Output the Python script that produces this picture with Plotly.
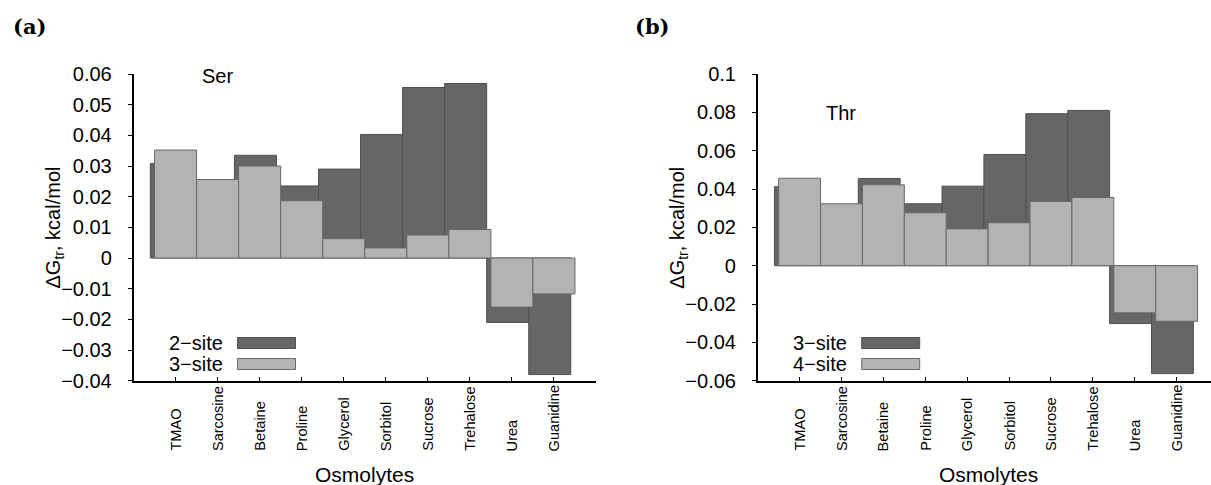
import numpy as np
import plotly.graph_objects as go

# ---------------- data ----------------
categories = ["TMAO", "Sarcosine", "Betaine", "Proline", "Glycerol",
              "Sorbitol", "Sucrose", "Trehalose", "Urea", "Guanidine"]

ser_2site = [0.0308, 0.0240, 0.0335, 0.0235, 0.0290, 0.0403, 0.0556, 0.0569, -0.0210, -0.0380]
ser_3site = [0.0352, 0.0256, 0.0300, 0.0187, 0.0063, 0.0033, 0.0075, 0.0093, -0.0160, -0.0117]

thr_3site = [0.0412, 0.0310, 0.0455, 0.0323, 0.0415, 0.0580, 0.0793, 0.0810, -0.0302, -0.0563]
thr_4site = [0.0456, 0.0323, 0.0422, 0.0276, 0.0192, 0.0224, 0.0335, 0.0356, -0.0246, -0.0290]

ser_series_names = ["2\u2212site", "3\u2212site"]
thr_series_names = ["3\u2212site", "4\u2212site"]

ser_yticks = [-0.04, -0.03, -0.02, -0.01, 0, 0.01, 0.02, 0.03, 0.04, 0.05, 0.06]
ser_yticktext = ["\u22120.04", "\u22120.03", "\u22120.02", "\u22120.01", "0",
                 "0.01", "0.02", "0.03", "0.04", "0.05", "0.06"]
thr_yticks = [-0.06, -0.04, -0.02, 0, 0.02, 0.04, 0.06, 0.08, 0.1]
thr_yticktext = ["\u22120.06", "\u22120.04", "\u22120.02", "0",
                 "0.02", "0.04", "0.06", "0.08", "0.1"]

panel_labels = ["(a)", "(b)"]
residues = ["Ser", "Thr"]
x_title = "Osmolytes"
y_title = "\u0394G<sub>tr</sub>, kcal/mol"

# ---------------- layout helpers ----------------
W, H = 1211, 485


def px(p):
    return p / W


def py(p):
    return 1 - p / H


DARK = "#666666"
DARK_LINE = "#505050"
LIGHT = "#b3b3b3"
LIGHT_LINE = "#686868"
FONT = "Liberation Sans, Arial, Helvetica, sans-serif"

idx = np.arange(len(categories))

fig = go.Figure()

panels = [
    dict(xa="x", ya="y", xdom=(133.5, 596.0), xr=(-1, 10.0),
         dark=ser_2site, light=ser_3site, names=ser_series_names,
         yticks=ser_yticks, ytext=ser_yticktext, yr=(-0.04, 0.06),
         res=residues[0], res_y=0.0594, lab=panel_labels[0], lab_x=29),
    dict(xa="x2", ya="y2", xdom=(757.7, 1211.0), xr=(-1, 9.82),
         dark=thr_3site, light=thr_4site, names=thr_series_names,
         yticks=thr_yticks, ytext=thr_yticktext, yr=(-0.06, 0.1),
         res=residues[1], res_y=0.0797, lab=panel_labels[1], lab_x=653),
]

y_dom = (py(380.7), py(74))
annotations = []
shapes = []

for k, p in enumerate(panels):
    fig.add_trace(go.Bar(
        x=idx, y=p["dark"], width=1.0, offset=-0.6, name=p["names"][0],
        marker=dict(color=DARK, line=dict(color=DARK_LINE, width=1)),
        xaxis=p["xa"], yaxis=p["ya"], showlegend=False))
    fig.add_trace(go.Bar(
        x=idx, y=p["light"], width=1.0, offset=-0.5, name=p["names"][1],
        marker=dict(color=LIGHT, line=dict(color=LIGHT_LINE, width=1)),
        xaxis=p["xa"], yaxis=p["ya"], showlegend=False))

    xkey = "xaxis" if k == 0 else "xaxis2"
    ykey = "yaxis" if k == 0 else "yaxis2"
    fig.layout[xkey] = dict(
        domain=[px(p["xdom"][0]), px(p["xdom"][1])], range=list(p["xr"]),
        anchor=p["ya"], showline=True, linecolor="black", linewidth=1.5,
        tickvals=list(range(-1, 11)), ticks="inside", ticklen=4,
        tickcolor="black", tickwidth=1, showticklabels=False,
        showgrid=False, zeroline=False, automargin=False)
    fig.layout[ykey] = dict(
        domain=list(y_dom), range=list(p["yr"]), anchor=p["xa"],
        showline=True, linecolor="black", linewidth=1.5,
        tickvals=p["yticks"], ticktext=p["ytext"], ticks="outside",
        ticklen=4, tickcolor="black", tickwidth=1,
        tickfont=dict(family=FONT, size=20, color="black"),
        ticklabelstandoff=12, showgrid=False, zeroline=False,
        automargin=False)

    # rotated category labels, bottom aligned
    for i, c in enumerate(categories):
        annotations.append(dict(
            text=c, x=idx[i], xref=p["xa"], y=py(452), yref="paper",
            xanchor="center", yanchor="bottom", textangle=-90,
            showarrow=False, borderpad=0,
            font=dict(family=FONT, size=14.6, color="black")))

    # x title
    annotations.append(dict(
        text=x_title, x=4.5, xref=p["xa"], y=py(474), yref="paper",
        xanchor="center", yanchor="middle", showarrow=False,
        font=dict(family=FONT, size=21, color="black")))

    # y title
    ax_left = p["xdom"][0]
    annotations.append(dict(
        text=y_title, x=px(ax_left - 80), xref="paper", y=py(228), yref="paper",
        xanchor="center", yanchor="middle", textangle=-90, showarrow=False,
        font=dict(family=FONT, size=20, color="black")))

    # residue label
    annotations.append(dict(
        text=p["res"], x=1.0, xref=p["xa"], y=p["res_y"], yref=p["ya"],
        xanchor="center", yanchor="middle", showarrow=False,
        font=dict(family=FONT, size=20, color="black")))

    # panel label
    annotations.append(dict(
        text="<b>" + p["lab"] + "</b>", x=px(p["lab_x"]), xref="paper",
        y=py(26), yref="paper", xanchor="center", yanchor="middle",
        showarrow=False,
        font=dict(family="DejaVu Serif, serif", size=21, color="black")))

    # manual legend: text then swatch
    for j, (nm, fc, lc, yc) in enumerate([
            (p["names"][0], DARK, DARK_LINE, 343.0),
            (p["names"][1], LIGHT, LIGHT_LINE, 364.0)]):
        annotations.append(dict(
            text=nm, x=px(ax_left + 91), xref="paper", y=py(yc), yref="paper",
            xanchor="right", yanchor="middle", showarrow=False,
            font=dict(family=FONT, size=20, color="black")))
        shapes.append(dict(
            type="rect", xref="paper", yref="paper",
            x0=px(ax_left + 104), x1=px(ax_left + 162),
            y0=py(yc + 5.5), y1=py(yc - 5.5),
            fillcolor=fc, line=dict(color=lc, width=1)))

fig.update_layout(
    width=W, height=H, barmode="overlay",
    margin=dict(l=0, r=0, t=0, b=0, pad=0, autoexpand=False),
    paper_bgcolor="white", plot_bgcolor="white",
    annotations=annotations, shapes=shapes,
    font=dict(family=FONT, color="black"),
    showlegend=False)

fig.write_html("out.html",
               config={"displayModeBar": False},
               post_script="document.body.style.margin='0px';")
